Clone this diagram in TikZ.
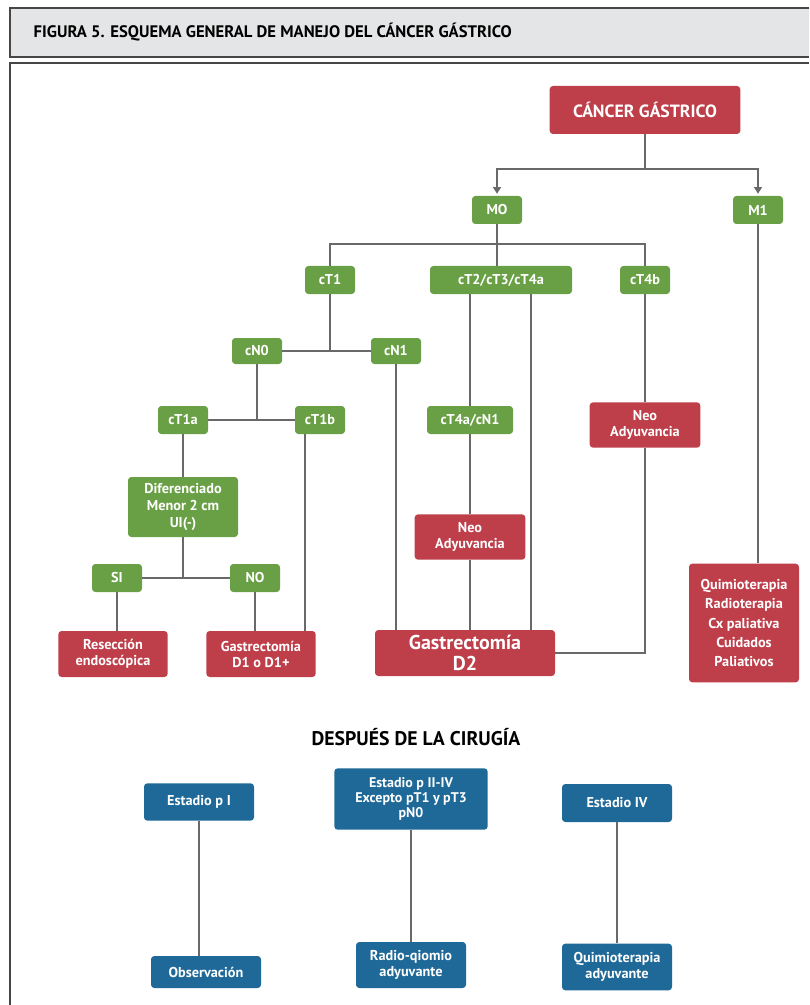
\documentclass[tikz,border=0pt]{standalone}
\usepackage{fontspec}
\setmainfont{PT Sans}
\usetikzlibrary{arrows.meta}
\definecolor{rojo}{RGB}{190,62,74}
\definecolor{verde}{RGB}{106,160,69}
\definecolor{azul}{RGB}{30,105,152}
\definecolor{gris}{RGB}{105,105,105}
\definecolor{fondo}{RGB}{228,229,230}
\definecolor{borde}{RGB}{70,70,70}
\tikzset{
  caja/.style={rounded corners=2.5pt, text=white, align=center, inner sep=1pt,
    font=\bfseries\fontsize{10.7}{12}\selectfont},
  cajaroja/.style={caja, fill=rojo},
  cajaverde/.style={caja, fill=verde, minimum width=37.5pt, minimum height=21pt},
  cajaazul/.style={caja, fill=azul, minimum width=82.5pt},
  linea/.style={draw=gris, line width=1.1pt},
  flecha/.style={linea, -{Triangle[width=6pt,length=5pt]}, shorten >=1.5pt}
}

\begin{document}
\begin{tikzpicture}[x=0.75pt,y=-0.75pt]
  \useasboundingbox (0,0) rectangle (809,1005);
  % marco y titulo
  \fill[fondo] (10,8) rectangle (809,57);
  \draw[borde, line width=1.3pt] (809,8) -- (10,8) -- (10,57) -- (809,57);
  \draw[borde, line width=1.3pt] (809,63) -- (10,63) -- (10,1005);
  \node[anchor=west, font=\bfseries\fontsize{12.5}{14}\selectfont] (fig) at (29,32)
    {FIGURA 5. ESQUEMA GENERAL DE MANEJO DEL CÁNCER GÁSTRICO};

  % antes de la cirugia
  \node[cajaroja, minimum width=143pt, minimum height=36pt,
    font=\bfseries\fontsize{13.3}{15}\selectfont] (cg) at (645,110) {CÁNCER GÁSTRICO};
  \node[cajaverde] (m0) at (497,210) {MO};
  \node[cajaverde] (m1) at (758,210) {M1};
  \node[cajaverde] (ct1) at (330,280) {cT1};
  \node[cajaverde, minimum width=106.5pt] (ct2) at (501,280) {cT2/cT3/cT4a};
  \node[cajaverde] (ct4b) at (645,280) {cT4b};
  \node[cajaverde, minimum height=19.5pt] (cn0) at (257,351) {cN0};
  \node[cajaverde, minimum height=19.5pt] (cn1) at (396,351) {cN1};
  \node[cajaverde] (ct1a) at (183,420) {cT1a};
  \node[cajaverde] (ct1b) at (320,420) {cT1b};
  \node[cajaverde, minimum width=64.5pt] (ct4a) at (470,420) {cT4a/cN1};
  \node[cajaverde, minimum width=82.5pt, minimum height=45pt,
    font=\bfseries\fontsize{10.7}{12.4}\selectfont] (dif) at (183,507)
    {Diferenciado\\Menor 2 cm\\UI(-)};
  \node[cajaverde] (si) at (117,578) {SI};
  \node[cajaverde] (no) at (255,578) {NO};
  \node[cajaroja, minimum width=83pt, minimum height=34pt] (neor) at (645,425)
    {Neo\\Adyuvancia};
  \node[cajaroja, minimum width=83pt, minimum height=34pt] (neom) at (470,537)
    {Neo\\Adyuvancia};
  \node[cajaroja, minimum width=82pt, minimum height=34.5pt] (res) at (113,654)
    {Resección\\endoscópica};
  \node[cajaroja, minimum width=82pt, minimum height=34.5pt] (gd1) at (261,654)
    {Gastrectomía\\D1 o D1+};
  \node[cajaroja, minimum width=135pt, minimum height=34.5pt,
    font=\bfseries\fontsize{15}{15.5}\selectfont] (gd2) at (465,653)
    {Gastrectomía\\D2};
  \node[cajaroja, minimum width=82.5pt, minimum height=89pt,
    font=\bfseries\fontsize{10.7}{14.6}\selectfont] (qui) at (744,623)
    {Quimioterapia\\Radioterapia\\Cx paliativa\\Cuidados\\Paliativos};

  \coordinate (j1) at (645,169);
  \coordinate (j2) at (497,244);
  \coordinate (t1) at (305,0);
  \coordinate (t2) at (531,0);
  \draw[linea] (cg) -- (j1);
  \draw[flecha] (j1) -| (m0);
  \draw[flecha] (j1) -| (m1);
  \draw[linea] (ct1) |- (j2) -| (ct4b);
  \draw[linea] (m0) -- (m0 |- ct2.north);
  \draw[linea] (ct1) -- (ct1 |- cn0);
  \draw[linea] (cn0) -- (cn1);
  \draw[linea] (cn0) -- (cn0 |- ct1a);
  \draw[linea] (ct1a) -- (ct1b);
  \draw[linea] (ct1a) -- (dif);
  \draw[linea] (dif) -- (dif |- si);
  \draw[linea] (si) -- (no);
  \draw[linea] (si) -- (si |- res.north);
  \draw[linea] (no) -- (no |- gd1.north);
  \draw[linea] (t1 |- ct1b.south) -- (t1 |- gd1.north);
  \draw[linea] (cn1) -- (cn1 |- gd2.north);
  \draw[linea] (ct4a |- ct2.south) -- (ct4a) -- (neom) -- (neom |- gd2.north);
  \draw[linea] (t2 |- ct2.south) -- (t2 |- gd2.north);
  \draw[linea] (ct4b) -- (neor) |- (gd2);
  \draw[linea] (m1) -- (m1 |- qui.north);

  % despues de la cirugia
  \node[font=\bfseries\fontsize{14.8}{16}\selectfont] (dc) at (416,737)
    {DESPUÉS DE LA CIRUGÍA};
  \node[cajaazul, minimum height=28pt] (ep1) at (199,802) {Estadio p I};
  \node[cajaazul, minimum width=115pt, minimum height=46pt,
    font=\bfseries\fontsize{10.5}{11.3}\selectfont] (ep2) at (411,799)
    {Estadio p II-IV\\Excepto pT1 y pT3\\pN0};
  \node[cajaazul, minimum height=28.5pt] (ep4) at (617,803) {Estadio IV};
  \node[cajaazul, minimum height=24pt] (obs) at (206,972) {Observación};
  \node[cajaazul, minimum height=34.5pt] (rad) at (411,965) {Radio-qiomio\\adyuvante};
  \node[cajaazul, minimum height=35pt] (qad) at (617,967) {Quimioterapia\\adyuvante};
  \draw[linea] (ep1) -- (ep1 |- obs.north);
  \draw[linea] (ep2) -- (rad);
  \draw[linea] (ep4) -- (qad);
\end{tikzpicture}
\end{document}
